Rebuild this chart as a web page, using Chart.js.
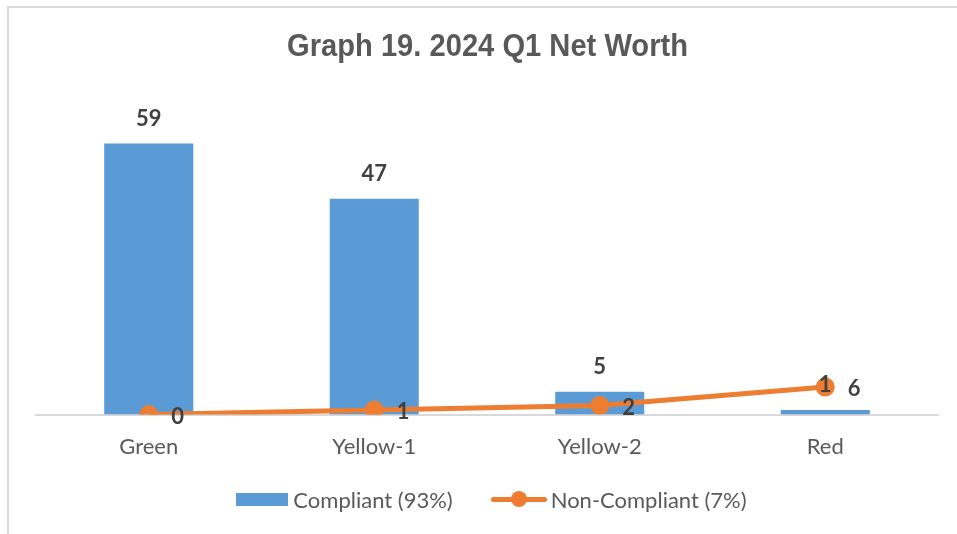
<!DOCTYPE html>
<html>
<head>
<meta charset="utf-8">
<script src="https://cdn.jsdelivr.net/npm/chart.js@4.4.1/dist/chart.umd.min.js"></script>
<style>
    html, body { margin: 0; padding: 0; background: #ffffff; }
    #wrap { position: relative; width: 957px; height: 534px; overflow: hidden; }
    #frame {
        position: absolute; left: 7px; top: 6px; width: 960px; height: 540px;
        border-left: 2px solid #d9d9d9; border-top: 2px solid #d9d9d9;
        box-sizing: border-box;
    }
    canvas { position: absolute; left: 0; top: 0; }
    #legend {
        position: absolute; left: 0; top: 486px; width: 983px; height: 26px;
        display: flex; justify-content: center; align-items: center;
        font-family: Lato, "Open Sans", sans-serif; font-size: 22px; color: #595959;
    }
    .item { display: flex; align-items: center; }
    .box { width: 52px; height: 13px; background: #5b9bd5; margin-right: 5px; }
    .ln { position: relative; width: 56px; height: 5px; background: #ed7d31; border-radius: 3px; margin-right: 4px; }
    .ln::after {
        content: ""; position: absolute; left: 20px; top: -6px; width: 16px; height: 16px;
        border-radius: 50%; background: #ed7d31;
    }
</style>
</head>
<body>
<div id="wrap">
    <div id="frame"></div>
    <canvas id="chart" width="957" height="534"></canvas>
    <div id="legend">
        <div class="item"><span class="box"></span><span>Compliant (93%)</span></div>
        <div class="item" style="margin-left:38px"><span class="ln"></span><span>Non-Compliant (7%)</span></div>
    </div>
</div>
<script>
const categories = ["Green", "Yellow-1", "Yellow-2", "Red"];
const compliant = [59, 47, 5, 1];
const nonCompliant = [0, 1, 2, 6];
const chartTitle = "Graph 19. 2024 Q1 Net Worth";

document.addEventListener("DOMContentLoaded", function () {
    if (typeof Chart === "undefined") {
        console.error("Chart.js not loaded");
        return;
    }

    // condensed bold title, like the Excel one
    const narrowTitle = {
        id: "narrowTitle",
        afterDraw(chart) {
            const ctx = chart.ctx;
            ctx.save();
            ctx.font = "bold 32px 'Liberation Sans', Arial, sans-serif";
            ctx.fillStyle = "#595959";
            ctx.textBaseline = "alphabetic";
            const w = ctx.measureText(chartTitle).width;
            const sx = 401 / w;
            ctx.translate(487.5, 56);
            ctx.scale(sx, 1);
            ctx.textAlign = "center";
            ctx.fillText(chartTitle, 0, 0);
            ctx.restore();
        },
    };

    // data labels drawn after the datasets
    const valueLabels = {
        id: "valueLabels",
        afterDatasetsDraw(chart) {
            const ctx = chart.ctx;
            ctx.save();
            ctx.font = "bold 22px Lato, 'Open Sans', sans-serif";
            ctx.fillStyle = "#404040";
            ctx.textAlign = "center";
            ctx.textBaseline = "middle";
            chart.getDatasetMeta(1).data.forEach(function (bar, i) {
                ctx.fillText(String(compliant[i]), bar.x, bar.y - 25);
            });
            chart.getDatasetMeta(0).data.forEach(function (pt, i) {
                ctx.fillText(String(nonCompliant[i]), pt.x + 29, pt.y + 2);
            });
            ctx.restore();
        },
    };

    new Chart(document.getElementById("chart").getContext("2d"), {
        data: {
            labels: categories,
            datasets: [
                {
                    type: "line",
                    label: "Non-Compliant (7%)",
                    data: nonCompliant,
                    borderColor: "#ed7d31",
                    backgroundColor: "#ed7d31",
                    borderWidth: 5,
                    pointRadius: 7,
                    pointHoverRadius: 7,
                    tension: 0,
                    order: 0,
                },
                {
                    type: "bar",
                    label: "Compliant (93%)",
                    data: compliant,
                    backgroundColor: "#5b9bd5",
                    categoryPercentage: 1,
                    barPercentage: 0.395,
                    order: 1,
                },
            ],
        },
        plugins: [valueLabels, narrowTitle],
        options: {
            responsive: false,
            animation: false,
            layout: { padding: { left: 36, right: 19, top: 93, bottom: 55 } },
            plugins: {
                legend: { display: false },
                tooltip: { enabled: false },
                title: { display: false },
            },
            scales: {
                x: {
                    grid: { display: false, drawTicks: false },
                    border: { display: true, color: "#d9d9d9", width: 2 },
                    ticks: {
                        color: "#595959",
                        padding: 19,
                        font: { family: "Lato, 'Open Sans', sans-serif", size: 22 },
                    },
                },
                y: {
                    display: false,
                    min: 0,
                    max: 70,
                },
            },
        },
    });
});
</script>
</body>
</html>
